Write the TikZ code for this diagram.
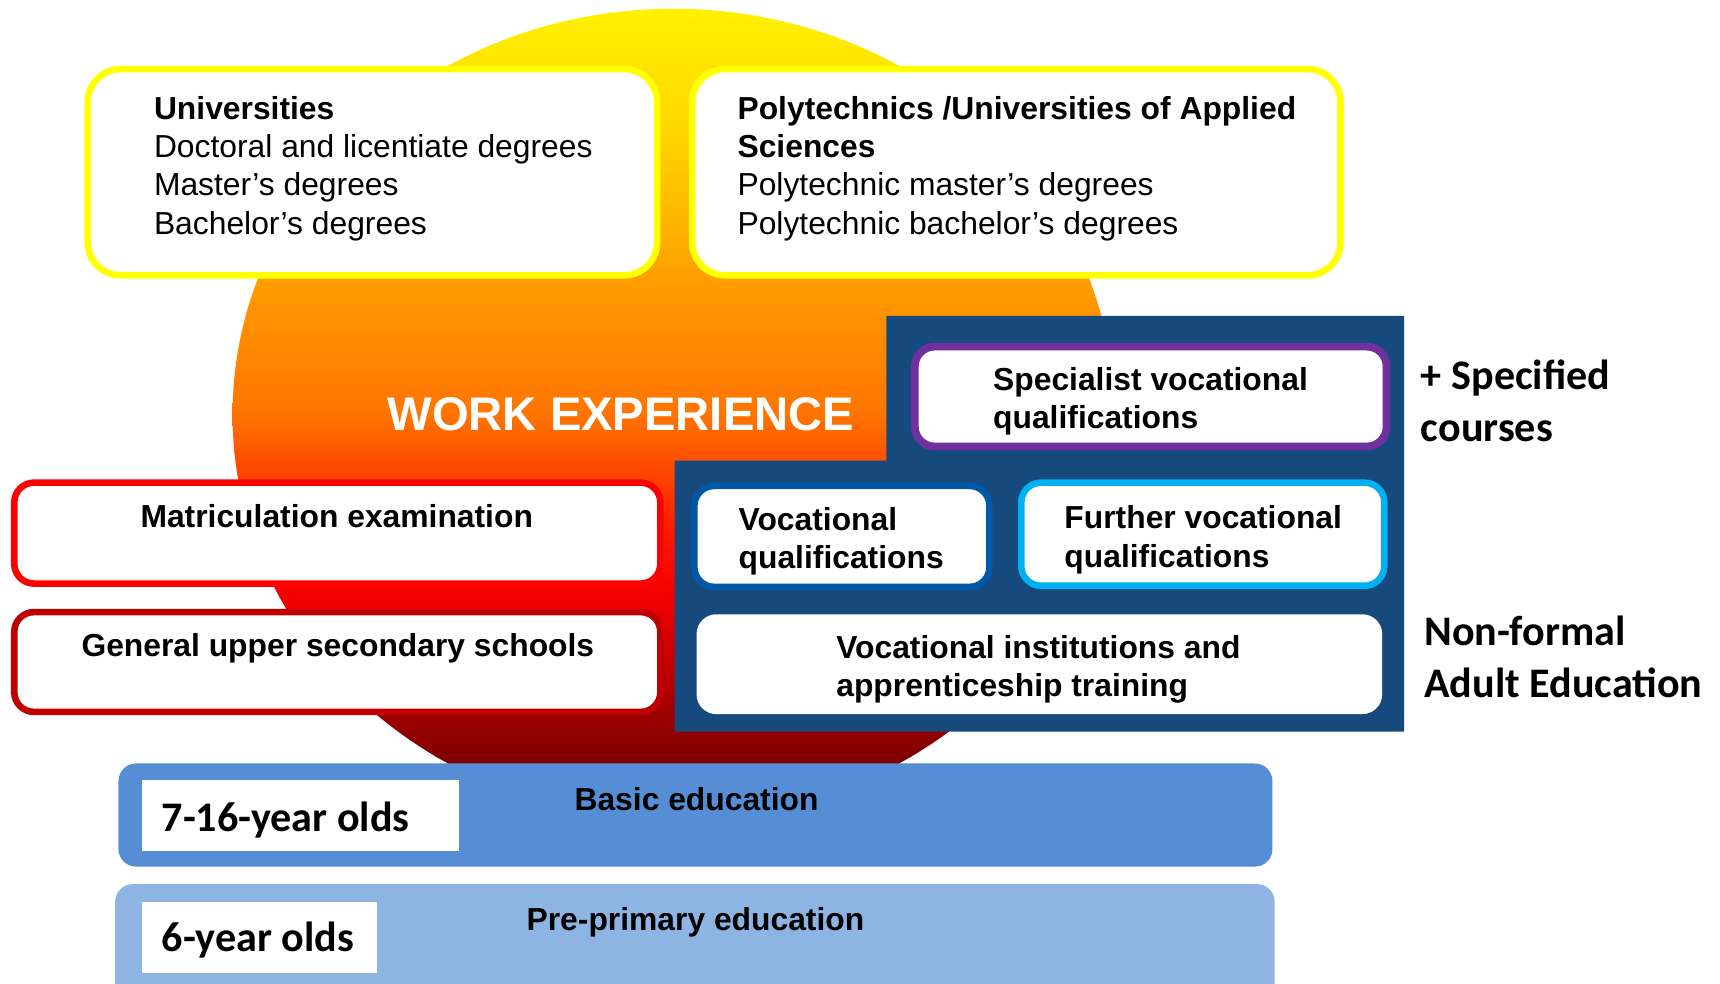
\documentclass[tikz,border=0pt]{standalone}
\usepackage{fontspec}
\setmainfont{Liberation Sans}
\newfontfamily\calibfont{Carlito}
\usetikzlibrary{fit}

% sun gradient stops, top to bottom
\definecolor{g0}{HTML}{FFF200}
\definecolor{g1}{HTML}{FFD800}
\definecolor{g2}{HTML}{FF9400}
\definecolor{g3}{HTML}{FF7400}
\definecolor{g4}{HTML}{FF5500}
\definecolor{g5}{HTML}{FF3300}
\definecolor{g6}{HTML}{FF1800}
\definecolor{g7}{HTML}{F20000}
\definecolor{g8}{HTML}{C80000}
\definecolor{g9}{HTML}{A00000}
\definecolor{g10}{HTML}{800000}
\definecolor{g11}{HTML}{700000}

\definecolor{uniyellow}{HTML}{FFFF00}
\definecolor{navy}{HTML}{174A7C}
\definecolor{purpleline}{HTML}{7030A0}
\definecolor{vocblue}{HTML}{0058A6}
\definecolor{cyanline}{HTML}{00B0F0}
\definecolor{redline}{HTML}{FF0000}
\definecolor{darkredline}{HTML}{C00000}
\definecolor{basicblue}{HTML}{558ED5}
\definecolor{preblue}{HTML}{8EB4E3}

\begin{document}
\begin{tikzpicture}[x=0.5pt,y=-0.5pt,
  box/.style={fill=white, line width=3pt, inner sep=0pt, rounded corners=9pt},
  bigbox/.style={box, rounded corners=15pt},
  bar/.style={inner sep=0pt, rounded corners=8pt},
  agebox/.style={fill=white, inner sep=0pt},
  arial/.style={font=\fontsize{14.5}{17.5}\selectfont, inner sep=0pt, align=left, anchor=west},
  arialb/.style={arial, font=\bfseries\fontsize{14.5}{17.5}\selectfont},
  calib/.style={font=\calibfont\bfseries\fontsize{19.2}{23.5}\selectfont, inner sep=0pt, align=left, anchor=west}]

\clip (0,0) rectangle (1568,897);
\fill[white] (0,0) rectangle (1568,897);

% the sun behind everything
\begin{scope}
  \clip (614,378) ellipse [x radius=201pt, y radius=185pt];
  \foreach \ya/\yb/\ca/\cb in {0/115/g0/g1, 115/280/g1/g2, 280/378/g2/g3,
      378/412/g3/g4, 412/452/g4/g5, 452/486/g5/g6, 486/544/g6/g7,
      544/601/g7/g8, 601/647/g8/g9, 647/690/g9/g10, 690/760/g10/g11}
    \shade[top color=\ca, bottom color=\cb] (200,\ya) rectangle (1030,\yb+1);
\end{scope}

% higher education
\node[bigbox, draw=uniyellow, fit={(80,63) (599,251)}] (uni) {};
\node[arial] (unitxt) at (140,153.5) {\textbf{Universities}\\Doctoral and licentiate degrees\\Master’s degrees\\Bachelor’s degrees};
\node[bigbox, draw=uniyellow, fit={(631,63) (1222,251)}] (poly) {};
\node[arial] (polytxt) at (672,153.5) {\textbf{Polytechnics /Universities of Applied}\\\textbf{Sciences}\\Polytechnic master’s degrees\\Polytechnic bachelor’s degrees};

\node[font=\bfseries\fontsize{21.5}{25}\selectfont, text=white, inner sep=0pt] (work) at (566,378) {WORK EXPERIENCE};

% vocational block
\fill[navy] (808,288) -- (1280,288) -- (1280,667) -- (615,667) -- (615,420) -- (808,420) -- cycle;

\node[box, draw=purpleline, line width=3.5pt, fit={(834,316) (1264,407)}] (spec) {};
\node[arialb] (spectxt) at (905,366) {Specialist vocational\\qualifications};

\node[box, draw=vocblue, fit={(633,443) (902,535)}] (voc) {};
\node[arialb] (voctxt) at (673,493.5) {Vocational\\qualifications};

\node[box, draw=cyanline, fit={(931,440) (1262,534)}] (further) {};
\node[arialb] (furthertxt) at (970,492) {Further vocational\\qualifications};

\node[box, draw=none, fit={(635,560) (1260,651)}] (inst) {};
\node[arialb] (insttxt) at (762,610) {Vocational institutions and\\apprenticeship training};

% general track
\node[box, draw=redline, fit={(13,440) (602,532)}] (matric) {};
\node[arialb, anchor=center] (matrictxt) at (307,470.5) {Matriculation examination};
\node[box, draw=darkredline, fit={(13,558) (602,649)}] (gen) {};
\node[arialb, anchor=center] (gentxt) at (308,591) {General upper secondary schools};

% side labels
\node[calib] (specified) at (1295,365.5) {+ Specified\\courses};
\node[calib] (nonformal) at (1298,599) {Non-formal\\Adult Education};

% basic and pre-primary education
\node[bar, fill=basicblue, fit={(108,696) (1160,790)}] (basic) {};
\node[agebox, fit={(129,711) (418,776)}] (agebasic) {};
\node[calib] (agebasictxt) at (147,747.5) {7-16-year olds};
\node[arialb, anchor=center] (basictxt) at (635,728.5) {Basic education};

\node[bar, fill=preblue, fit={(105,806) (1162,915)}] (pre) {};
\node[agebox, fit={(129,822) (344,887)}] (agepre) {};
\node[calib] (agepretxt) at (147,857) {6-year olds};
\node[arialb, anchor=center] (pretxt) at (634,841) {Pre-primary education};

\end{tikzpicture}
\end{document}
